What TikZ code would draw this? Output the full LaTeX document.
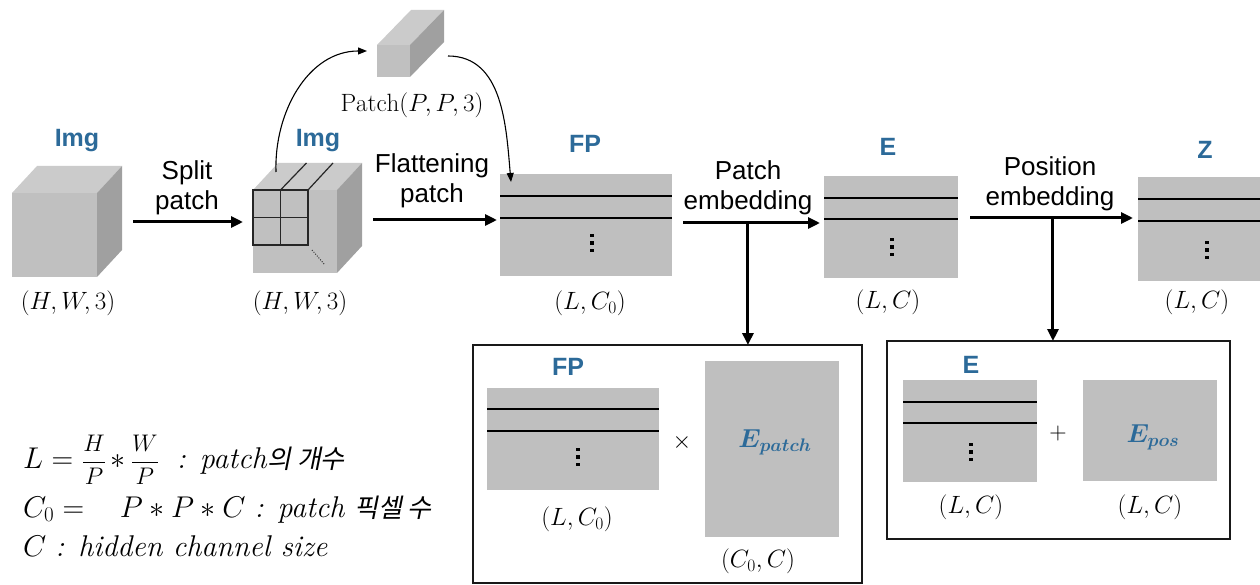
\RequirePackage{fix-cm}
\documentclass[tikz,border=0pt]{standalone}
\usepackage{amsmath}
\usepackage{bm}
\usepackage{fontspec}
\usetikzlibrary{arrows.meta,calc}
\newfontfamily\sansfam{Liberation Sans}
\newfontfamily\krfam[FakeSlant=0.2]{Noto Sans CJK KR}

\definecolor{matgray}{HTML}{BFBFBF}
\definecolor{frontgray}{HTML}{C0C0C0}
\definecolor{topgray}{HTML}{CBCBCB}
\definecolor{sidegray}{HTML}{A0A0A0}
\definecolor{lblblue}{HTML}{2C6A99}

% top and right faces of a box whose front face is node #1, depth (#2 right, #3 up)
\newcommand\cubefaces[3]{%
  \fill[topgray] (#1.north west) -- ++(#2,-#3) -- ([shift={(#2,-#3)}]#1.north east) -- (#1.north east) -- cycle;
  \fill[sidegray] (#1.north east) -- ++(#2,-#3) -- ([shift={(#2,-#3)}]#1.south east) -- (#1.south east) -- cycle;}
% two row separators inside a matrix node, offsets measured from its top edge
\newcommand\rowlines[3]{%
  \draw[rowline] ([yshift=-#2pt]#1.north west) -- ([yshift=-#2pt]#1.north east);
  \draw[rowline] ([yshift=-#3pt]#1.north west) -- ([yshift=-#3pt]#1.north east);}
% vertical ellipsis made of three square dots below the centre of node #1
\newcommand\sqdots[3]{%
  \foreach \d in {-7.5,0,7.5}
    \fill ([shift={(#2-1.9,#3+\d-1.9)}]#1.center) rectangle ++(3.8,3.8);}
% fraction with full-size letters, set a little smaller than the text
\newcommand\bigfrac[2]{{\fontsize{24}{28}\selectfont$\dfrac{#1}{#2}$}}

\tikzset{
  frontface/.style={fill=frontgray, inner sep=0pt, outer sep=0pt},
  mat/.style={fill=matgray, inner sep=0pt, outer sep=0pt},
  panel/.style={draw=black!90, line width=2pt, inner sep=0pt, outer sep=0pt},
  rowline/.style={line width=2.2pt, black},
  gridline/.style={line width=1.2pt, black!85},
  bigarrow/.style={line width=3pt, -{Triangle[length=12pt,width=11pt]}},
  thinarrow/.style={line width=1.1pt, -{Triangle[length=9pt,width=7pt]}},
  blbl/.style={font=\sansfam\bfseries\fontsize{25}{30}\selectfont, text=lblblue, inner sep=0pt},
  steplbl/.style={font=\sansfam\fontsize{26}{30}\selectfont, align=center, inner sep=0pt},
  dimlbl/.style={font=\fontsize{25}{30}\selectfont, inner sep=0pt},
  oplbl/.style={font=\fontsize{24}{28}\selectfont, inner sep=0pt},
  symlbl/.style={font=\fontsize{26}{30}\selectfont, text=lblblue, inner sep=0pt},
  legend/.style={font=\fontsize{30}{34}\selectfont, anchor=base west, inner sep=0pt},
}

\begin{document}
\begin{tikzpicture}[x=1pt,y=-1pt]
\useasboundingbox (0,0) rectangle (1260,585);
\begin{scope}
\clip (0,0) rectangle (1260,585);

% ---- input image cube
\node[frontface, minimum width=85, minimum height=84] (imgA) at (54.5,235) {};
\cubefaces{imgA}{25}{27}
\node[blbl] (tA) at (77,141) {Img};
\node[dimlbl] (dA) at (68,303) {$(H,W,3)$};

% ---- image cube split into patches
\node[frontface, minimum width=84, minimum height=83] (imgB) at (295,231.5) {};
\cubefaces{imgB}{25}{27}
\draw[gridline] (imgB.north west) rectangle ++(55,55);
\draw[gridline] ([xshift=27.5pt]imgB.north west) -- ++(0,55);
\draw[gridline] ([yshift=-27.5pt]imgB.north west) -- ++(55,0);
\draw[gridline] ([xshift=27.5pt]imgB.north west) -- ++(26,-27);
\draw[gridline] ([xshift=55pt]imgB.north west) -- ++(25,-27);
\draw[line width=1pt, black!80, dash pattern=on 1pt off 1.5pt] ([shift={(59,60)}]imgB.north west) -- ++(13,15);
\node[blbl] (tB) at (318,141) {Img};
\node[dimlbl] (dB) at (300,303) {$(H,W,3)$};

% ---- a single patch
\node[frontface, minimum width=33, minimum height=32] (patch) at (393.5,61) {};
\cubefaces{patch}{34}{35}
\node[dimlbl] (dpatch) at (412,105) {$\mathrm{Patch}(P,P,3)$};

% ---- flattened patches
\node[mat, minimum width=172, minimum height=102] (fp) at (586,225) {};
\rowlines{fp}{22}{44}
\sqdots{fp}{6}{18}
\node[blbl] (tfp) at (585,143.5) {FP};
\node[dimlbl] (dfp) at (590,303) {$(L,C_0)$};

% ---- patch embeddings
\node[mat, minimum width=134, minimum height=102] (e) at (891,227) {};
\rowlines{e}{22}{43}
\sqdots{e}{1}{20}
\node[blbl] (te) at (888,147) {E};
\node[dimlbl] (de) at (888,302) {$(L,C)$};

% ---- embeddings with position
\node[mat, minimum width=134, minimum height=104] (z) at (1205,229) {};
\rowlines{z}{22}{44}
\sqdots{z}{2}{21}
\node[blbl] (tz) at (1205,150) {Z};
\node[dimlbl] (dz) at (1197,302) {$(L,C)$};

% ---- main flow
\draw[bigarrow] ([shift={(36,-13)}]imgA.east) -- ([shift={(-10,-9.5)}]imgB.west);
\node[steplbl] (s1) at (187,188) {Split\\patch};
\draw[bigarrow] ([shift={(36,-11.5)}]imgB.east) -- ([shift={(-3,-5)}]fp.west);
\node[steplbl] (s2) at (432,181) {Flattening\\patch};
\draw[bigarrow] ([shift={(11,-2)}]fp.east) -- coordinate[pos=0.474] (j3) ([shift={(-4,-4)}]e.west);
\node[steplbl] (s3) at (748,188) {Patch\\embedding};
\draw[bigarrow] ([shift={(12,-9)}]e.east) -- coordinate[pos=0.509] (j4) ([shift={(-5,-11)}]z.west);
\node[steplbl] (s4) at (1050,183.5) {Position\\embedding};

% ---- patch path
\coordinate (lift) at ([shift={(23,-18)}]imgB.north west);
\draw[thinarrow] (lift) to[out=92,in=180] ([shift={(-10,-10)}]patch.west);
\draw[thinarrow] ([shift={(38,-5)}]patch.east) to[out=0,in=95] ([shift={(11,8)}]fp.north west);

% ---- patch embedding detail
\node[panel, minimum width=389, minimum height=238] (pa) at (667.5,464) {};
\draw[bigarrow] (j3) -- (j3 |- pa.north);
\node[mat, minimum width=172, minimum height=102] (fpb) at (573,439) {};
\rowlines{fpb}{21}{43}
\sqdots{fpb}{5}{18}
\node[blbl] (tfpb) at (568,367) {FP};
\node[dimlbl] (dfpb) at (577,519) {$(L,C_0)$};
\node[oplbl] (times) at (682,442) {$\times$};
\node[mat, minimum width=134, minimum height=176] (epatch) at (772,449) {};
\node[symlbl] (lpatch) at (775,442) {$\bm{E_{patch}}$};
\node[dimlbl] (depatch) at (758,561) {$(C_0,C)$};

% ---- position embedding detail
\node[panel, minimum width=343, minimum height=198] (pb) at (1058.5,440) {};
\draw[bigarrow] (j4) -- (j4 |- pb.north);
\node[mat, minimum width=134, minimum height=102] (eb) at (970,431) {};
\rowlines{eb}{22}{43}
\sqdots{eb}{1}{21}
\node[blbl] (teb) at (971,365) {E};
\node[dimlbl] (deb) at (971,507.5) {$(L,C)$};
\node[oplbl] (plus) at (1058,433) {$+$};
\node[mat, minimum width=134, minimum height=101] (epos) at (1150,430.5) {};
\node[symlbl] (lpos) at (1153,437) {$\bm{E_{pos}}$};
\node[dimlbl] (depos) at (1150,507.5) {$(L,C)$};

% ---- definitions
\node[legend] (leg1) at (23,468) {$L =$\ \bigfrac{H}{P}$\,{*}\,$\bigfrac{W}{P}\ \ \textit{: patch}{\krfam\fontsize{26}{30}\selectfont 의 개수}};
\node[legend] (leg2) at (23,517) {$C_0 =\ \ \ P * P * C$ \textit{: patch} {\krfam\fontsize{26}{30}\selectfont 픽셀 수}};
\node[legend] (leg3) at (23,556) {$C$\ \textit{: hidden channel size}};
\end{scope}
\end{tikzpicture}
\end{document}
